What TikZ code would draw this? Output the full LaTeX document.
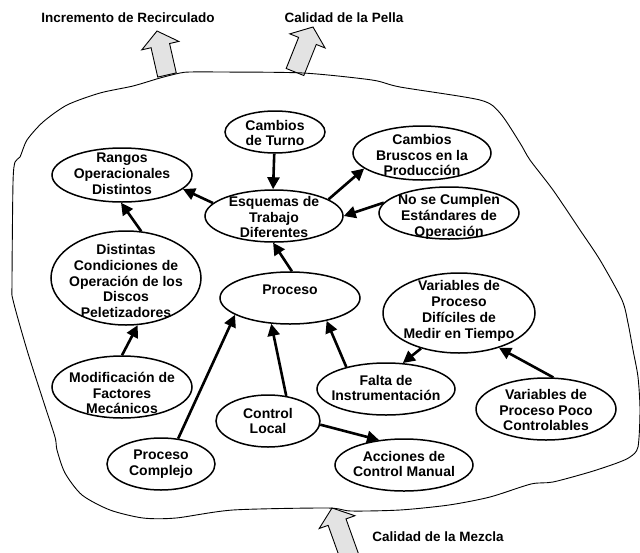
\documentclass[tikz,border=0pt]{standalone}
\usepackage{fontspec}
\setmainfont{Liberation Sans}
\usetikzlibrary{shapes.geometric,arrows.meta,calc}
\newcommand{\ntxt}{\fontsize{14}{15.8}\selectfont\bfseries}
\newcommand{\ltxt}{\fontsize{13.5}{15}\selectfont\bfseries}
\tikzset{
  ell/.style={ellipse, draw, line width=1.5pt, inner sep=0pt},
  txt/.style={font=\ntxt, align=center, inner sep=0pt},
  lbl/.style={font=\ltxt, inner sep=0pt},
  arr/.style={line width=2.6pt, -{Triangle[length=12pt,width=12pt]}},
  blob/.style={line width=0.9pt},
  blk/.style={draw, line width=0.9pt, fill=gray!22, line join=miter}
}
\newcommand{\blockarrow}[2]{%
  \draw[blk] ($(#1)!9.5pt!90:(#2)$) -- ($($(#2)!15pt!(#1)$)!9.5pt!-90:(#1)$)
    -- ($($(#2)!15pt!(#1)$)!19pt!-90:(#1)$) -- (#2)
    -- ($($(#2)!15pt!(#1)$)!19pt!90:(#1)$)
    -- ($($(#2)!15pt!(#1)$)!9.5pt!90:(#1)$) -- ($(#1)!9.5pt!-90:(#2)$) -- cycle;}
\begin{document}
\begin{tikzpicture}[x=1pt,y=-1pt]
\clip (0,0) rectangle (640,552);
\fill[white] (0,0) rectangle (640,552);

% block arrows
\coordinate (lb) at (167,75);  \coordinate (lt) at (157,31);
\coordinate (rb) at (295,72);  \coordinate (rt) at (313,27);
\coordinate (bb) at (351,561); \coordinate (bt) at (332,508);
\blockarrow{lb}{lt}
\blockarrow{rb}{rt}
\blockarrow{bb}{bt}

% outline
\draw[blob] plot[smooth cycle, tension=0.45] coordinates {
 (190,72) (220,72) (303,73) (372,80) (400,87) (480,100) (500,113) (520,143)
 (530,160) (553,190) (580,230) (600,260) (622,300) (628,323) (633,350)
 (638,377) (640,410) (638,447) (630,457) (617,463) (590,472) (553,482)
 (531,484) (490,497) (449,505) (400,510) (351,511) (327,508) (233,510)
 (176,518) (143,518) (110,510) (82,495) (65,473) (57,450) (55,437) (43,400)
 (27,350) (13,300) (12,283) (13,183) (15,162) (20,157) (27,140) (43,122)
 (67,105) (100,93) (133,86) (160,78) (180,73)};

% labels
\node[lbl] (linc) at (128,18) {Incremento de Recirculado};
\node[lbl] (lpel) at (344,18) {Calidad de la Pella};
\node[lbl] (lmez) at (438,537) {Calidad de la Mezcla};

% ellipses
\node[ell, minimum width=100pt, minimum height=42pt] (turno) at (275,132) {};
\node[txt] (turnot) at (275,133) {Cambios\\de Turno};
\node[ell, minimum width=140pt, minimum height=54pt] (rangos) at (122,175) {};
\node[txt] (rangost) at (122,174) {Rangos\\Operacionales\\Distintos};
\node[ell, minimum width=138pt, minimum height=52pt] (esq) at (274,216) {};
\node[txt] (esqt) at (274,217) {Esquemas de\\Trabajo\\Diferentes};
\node[ell, minimum width=138pt, minimum height=54pt] (bruscos) at (422,153) {};
\node[txt] (bruscost) at (422,155) {Cambios\\Bruscos en la\\Producción};
\node[ell, minimum width=140pt, minimum height=52pt] (nose) at (449,213) {};
\node[txt] (noset) at (449,217) {No se Cumplen\\Estándares de\\Operación};
\node[ell, minimum width=150pt, minimum height=94pt] (dist) at (126,278) {};
\node[txt] (distt) at (126,281) {Distintas\\Condiciones de\\Operación de los\\Discos\\Peletizadores};
\node[ell, minimum width=140pt, minimum height=52pt] (proc) at (290,298) {};
\node[txt] (proct) at (290,290) {Proceso};
\node[ell, minimum width=140pt, minimum height=62pt] (modif) at (122,387) {};
\node[txt] (modift) at (122,393) {Modificación de\\Factores\\Mecánicos};
\node[ell, minimum width=104pt, minimum height=52pt] (control) at (268,421) {};
\node[txt] (controlt) at (268,421) {Control\\Local};
\node[ell, minimum width=108pt, minimum height=52pt] (complejo) at (161,464) {};
\node[txt] (complejot) at (161,464) {Proceso\\Complejo};
\node[ell, minimum width=138pt, minimum height=52pt] (acciones) at (404,465) {};
\node[txt] (accionest) at (404,464) {Acciones de\\Control Manual};
\node[ell, minimum width=152pt, minimum height=80pt] (vdif) at (459,313) {};
\node[txt] (vdift) at (459,311) {Variables de\\Proceso\\Difíciles de\\Medir en Tiempo};
\node[ell, minimum width=138pt, minimum height=52pt] (falta) at (386,389) {};
\node[txt] (faltat) at (386,388) {Falta de\\Instrumentación};
\node[ell, minimum width=140pt, minimum height=62pt] (vpoco) at (546,409) {};
\node[txt] (vpocot) at (546,410) {Variables de\\Proceso Poco\\Controlables};

% connectors
\draw[arr] (turno.268) -- (esq.92);
\draw[arr] (esq.168) -- (rangos.347);
\draw[arr] (esq.17) -- (bruscos.195);
\draw[arr] (nose.171) -- (esq.0);
\draw[arr] (proc.86) -- (esq.268);
\draw[arr] (dist.72) -- (rangos.268);
\draw[arr] (modif.90) -- (dist.284);
\draw[arr] (complejo.56) -- (proc.197);
\draw[arr] (control.54) -- (proc.234);
\draw[arr] (falta.151) -- (proc.328);
\draw[arr] (vdif.223) -- (falta.57);
\draw[arr] (vpoco.77) -- (vdif.319);
\draw[arr] (control.356) -- (acciones.135);
\end{tikzpicture}
\end{document}
